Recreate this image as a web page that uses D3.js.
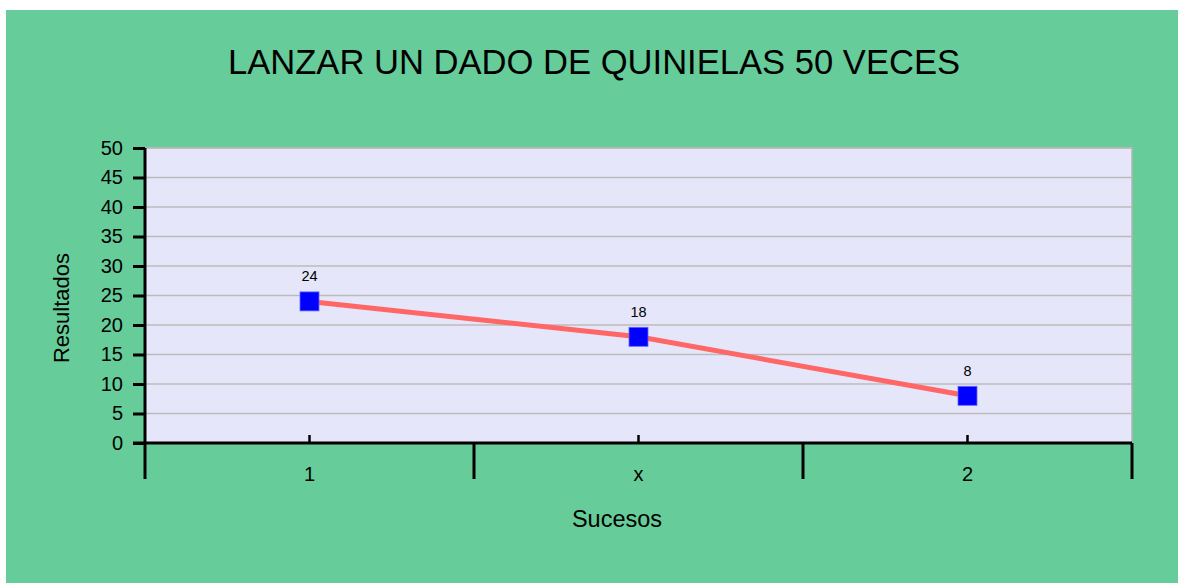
<!DOCTYPE html>
<html>
<head>
<meta charset="utf-8">
<script src="https://cdn.jsdelivr.net/npm/d3@7"></script>
<style>
  body { margin: 0; background: #fff; }
  text { font-family: Arial, "Liberation Sans", sans-serif; fill: #000; }
</style>
</head>
<body>
<div id="chart"></div>
<script>
// data
var categories = ['1', 'x', '2'];
var resultados = [24, 18, 8];
var yTicks = [0, 5, 10, 15, 20, 25, 30, 35, 40, 45, 50];

var width = 1178;
var height = 583;
var margin = { top: 148, left: 145, bottom: 140, right: 46 };
var g_width = width - margin.left - margin.right;
var g_height = height - margin.top - margin.bottom;

var svg = d3.select('#chart').append('svg')
	.attr('width', width)
	.attr('height', height);

// green background
svg.append('rect')
	.attr('x', 6).attr('y', 10)
	.attr('width', width - 6).attr('height', height - 10)
	.attr('fill', '#66CC99');

svg.append('text')
	.text('LANZAR UN DADO DE QUINIELAS 50 VECES')
	.attr('x', 594).attr('y', 74)
	.attr('text-anchor', 'middle')
	.style('font-size', '34.6px');

var g = svg.append('g')
	.attr('transform', 'translate(' + margin.left + ',' + margin.top + ')');

var xScale = d3.scaleBand()
	.domain(categories)
	.range([0, g_width])
	.padding(0);

var yScale = d3.scaleLinear()
	.domain([0, 50])
	.range([g_height, 0]);

// plot area
g.append('rect')
	.attr('width', g_width).attr('height', g_height)
	.attr('fill', '#E6E6FA')
	.attr('stroke', '#B3B3B3')
	.attr('stroke-width', 1.5);

// gridlines
g.selectAll('.grid')
	.data(yTicks.filter(function (t) { return t > 0; }))
	.enter().append('line')
	.attr('class', 'grid')
	.attr('x1', 0).attr('x2', g_width)
	.attr('y1', function (d) { return yScale(d); })
	.attr('y2', function (d) { return yScale(d); })
	.attr('stroke', '#BBBBBB')
	.attr('stroke-width', 1.5);

// y axis
var yAxis = d3.axisLeft(yScale)
	.tickValues(yTicks)
	.tickSize(12)
	.tickSizeOuter(0)
	.tickPadding(10);
var yG = g.append('g').attr('class', 'y axis').call(yAxis);
yG.select('.domain').remove();
yG.selectAll('line').attr('stroke', '#000').attr('stroke-width', 3);
yG.selectAll('text').style('font-size', '20px');

// x axis: short ticks at the categories, pointing up
var xAxis = d3.axisBottom(xScale)
	.tickSize(-8)
	.tickSizeOuter(0)
	.tickPadding(24);
var xG = g.append('g')
	.attr('class', 'x axis')
	.attr('transform', 'translate(0,' + g_height + ')')
	.call(xAxis);
xG.select('.domain').remove();
xG.selectAll('line').attr('stroke', '#000').attr('stroke-width', 2.5);
xG.selectAll('text').style('font-size', '20px');

// long ticks between categories
var bounds = categories.map(function (c) { return xScale(c); });
bounds.push(g_width);
g.selectAll('.sep')
	.data(bounds)
	.enter().append('line')
	.attr('class', 'sep')
	.attr('x1', function (d) { return d; })
	.attr('x2', function (d) { return d; })
	.attr('y1', g_height)
	.attr('y2', g_height + 36)
	.attr('stroke', '#000')
	.attr('stroke-width', 3);

// axis lines
g.append('line')
	.attr('x1', 0).attr('x2', 0)
	.attr('y1', 0).attr('y2', g_height)
	.attr('stroke', '#000').attr('stroke-width', 3);
g.append('line')
	.attr('x1', -12).attr('x2', g_width)
	.attr('y1', g_height).attr('y2', g_height)
	.attr('stroke', '#000').attr('stroke-width', 3);

// series
var points = categories.map(function (c, i) { return { cat: c, value: resultados[i] }; });
var cx = function (d) { return xScale(d.cat) + xScale.bandwidth() / 2; };
var cy = function (d) { return yScale(d.value); };

g.append('path')
	.datum(points)
	.attr('fill', 'none')
	.attr('stroke', '#FF6666')
	.attr('stroke-width', 5)
	.attr('d', d3.line().x(cx).y(cy));

var ms = 19;
g.selectAll('.marker')
	.data(points)
	.enter().append('rect')
	.attr('class', 'marker')
	.attr('x', function (d) { return cx(d) - ms / 2; })
	.attr('y', function (d) { return cy(d) - ms / 2; })
	.attr('width', ms).attr('height', ms)
	.attr('fill', '#0000FF')
	.attr('stroke', '#6666FF')
	.attr('stroke-width', 0.8);

g.selectAll('.vlabel')
	.data(points)
	.enter().append('text')
	.attr('class', 'vlabel')
	.attr('x', cx)
	.attr('y', function (d) { return cy(d) - 20; })
	.attr('text-anchor', 'middle')
	.style('font-size', '14.5px')
	.text(function (d) { return d.value; });

// axis titles
svg.append('text')
	.text('Resultados')
	.attr('transform', 'translate(69,' + 308 + ') rotate(-90)')
	.attr('text-anchor', 'middle')
	.style('font-size', '22px');

svg.append('text')
	.text('Sucesos')
	.attr('x', 617).attr('y', 527)
	.attr('text-anchor', 'middle')
	.style('font-size', '23.5px');
</script>
</body>
</html>
